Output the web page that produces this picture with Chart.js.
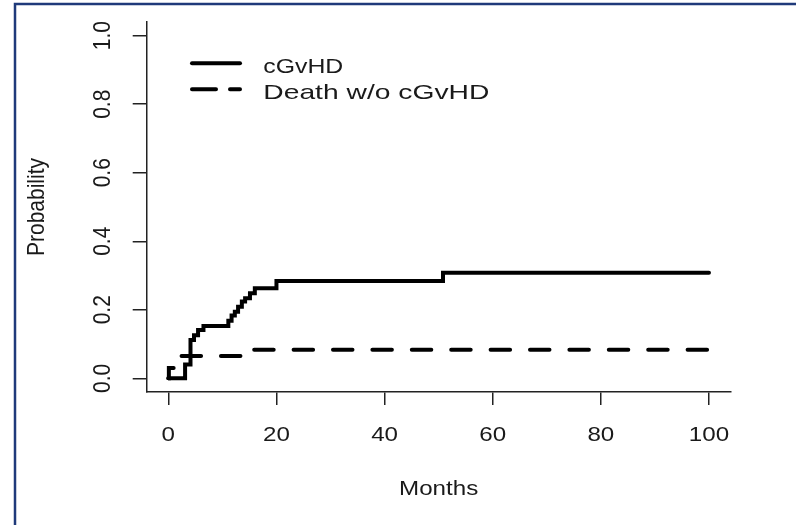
<!DOCTYPE html>
<html>
<head>
<meta charset="utf-8">
<script src="https://cdn.jsdelivr.net/npm/chart.js@4/dist/chart.umd.min.js"></script>
<style>
  html, body { margin: 0; padding: 0; background: #fff; overflow: hidden; }
  canvas { display: block; }
</style>
</head>
<body>
<canvas id="c" width="796" height="525"></canvas>
<script>
// Cumulative incidence step curves: cGvHD and death without cGvHD
const cgvhdMonths = [0, 3.1, 4.1, 4.75, 5.5, 6.5, 11.1, 11.7, 12.3, 12.9, 13.6, 14.2, 15.1, 16.0, 20.0, 50.8, 100];
const cgvhdProb   = [0, 0.04, 0.112, 0.126, 0.141, 0.153, 0.168, 0.183, 0.194, 0.209, 0.224, 0.234, 0.248, 0.263, 0.284, 0.308, 0.308];
const deathMonths = [0, 0.1, 1.3, 15.0, 100];
const deathProb   = [0, 0.03, 0.065, 0.083, 0.083];
const seriesNames = ['cGvHD', 'Death w/o cGvHD'];
const xTickValues = [0, 20, 40, 60, 80, 100];
const yTickValues = [0, 0.2, 0.4, 0.6, 0.8, 1.0];
const yTickLabels = ['0.0', '0.2', '0.4', '0.6', '0.8', '1.0'];
const xTitle = 'Months';
const yTitle = 'Probability';

const FONT = '21px "Liberation Sans", Arial, sans-serif';
const TEXT_COLOR = '#1a1a1a';
const SX = 1.15;                 // horizontal stretch of the lettering
const LEGEND_TEXT_WIDTH = [80, 226];

function toPoints(xs, ys) {
  return xs.map((x, i) => ({ x: x, y: ys[i] }));
}

function drawLabel(ctx, str, x, y, rotated, align, fitWidth) {
  ctx.save();
  ctx.font = FONT;
  let sx = SX;
  if (fitWidth) sx = fitWidth / ctx.measureText(str).width;
  ctx.translate(x, y);
  ctx.scale(sx, 1);
  if (rotated) ctx.rotate(-Math.PI / 2);
  ctx.fillStyle = TEXT_COLOR;
  ctx.textAlign = align;
  ctx.textBaseline = 'alphabetic';
  ctx.fillText(str, 0, 0);
  ctx.restore();
}

// Page frame: left and top rules in navy
const framePlugin = {
  id: 'frame',
  beforeDraw(chart) {
    const ctx = chart.ctx;
    ctx.save();
    ctx.fillStyle = '#fff';
    ctx.fillRect(0, 0, chart.width, chart.height);
    ctx.strokeStyle = '#1f3a7a';
    ctx.lineWidth = 2.5;
    ctx.beginPath();
    ctx.moveTo(15, chart.height);
    ctx.lineTo(15, 4);
    ctx.lineTo(chart.width, 4);
    ctx.stroke();
    ctx.restore();
  }
};

// Tick labels, axis titles and an in-plot legend
const textPlugin = {
  id: 'texts',
  afterDraw(chart) {
    const ctx = chart.ctx;
    const xs = chart.scales.x, ys = chart.scales.y;
    const area = chart.chartArea;

    xTickValues.forEach(v => {
      drawLabel(ctx, String(v), xs.getPixelForValue(v), 441, false, 'center');
    });
    yTickValues.forEach((v, i) => {
      drawLabel(ctx, yTickLabels[i], 110, ys.getPixelForValue(v), true, 'center');
    });

    drawLabel(ctx, xTitle, (area.left + area.right) / 2, 495, false, 'center');
    drawLabel(ctx, yTitle, 44, (area.top + area.bottom) / 2, true, 'center');

    chart.data.datasets.forEach((ds, i) => {
      const ly = 63.3 + i * 26;
      ctx.save();
      ctx.strokeStyle = ds.borderColor;
      ctx.lineWidth = ds.borderWidth;
      ctx.lineCap = ds.borderCapStyle || 'butt';
      ctx.setLineDash(ds.borderDash ? [24, 14] : []);
      ctx.beginPath();
      ctx.moveTo(192, ly);
      ctx.lineTo(240, ly);
      ctx.stroke();
      ctx.restore();
      drawLabel(ctx, ds.label, 263.3, 73 + i * 26, false, 'left', LEGEND_TEXT_WIDTH[i]);
    });
  }
};

const axisLine = { display: true, color: '#222', width: 1.5 };
const tickMarks = { display: true, drawOnChartArea: false, drawTicks: true, color: '#222', lineWidth: 1.5 };

new Chart(document.getElementById('c'), {
  type: 'line',
  data: {
    datasets: [
      {
        label: seriesNames[0],
        data: toPoints(cgvhdMonths, cgvhdProb),
        stepped: 'before',
        borderColor: '#000',
        borderWidth: 4,
        borderCapStyle: 'round',
        borderJoinStyle: 'miter',
        pointRadius: 0,
        fill: false
      },
      {
        label: seriesNames[1],
        data: toPoints(deathMonths, deathProb),
        stepped: 'before',
        borderColor: '#000',
        borderWidth: 4,
        borderDash: [19.5, 19.9],
        borderDashOffset: 3.9,
        borderCapStyle: 'round',
        borderJoinStyle: 'miter',
        pointRadius: 0,
        fill: false
      }
    ]
  },
  options: {
    responsive: false,
    devicePixelRatio: 1,
    animation: false,
    layout: { padding: { left: 0, top: 22, right: 65.4, bottom: 0 } },
    plugins: { legend: { display: false }, tooltip: { enabled: false } },
    scales: {
      x: {
        type: 'linear',
        min: -4,
        max: 104,
        afterBuildTicks: s => { s.ticks = xTickValues.map(v => ({ value: v })); },
        afterFit: s => { s.height = 133; },
        ticks: { display: false },
        grid: Object.assign({ tickLength: 13 }, tickMarks),
        border: axisLine
      },
      y: {
        type: 'linear',
        min: -0.04,
        max: 1.04,
        afterBuildTicks: s => { s.ticks = yTickValues.map(v => ({ value: v })); },
        afterFit: s => { s.width = 146.7; },
        ticks: { display: false },
        grid: Object.assign({ tickLength: 14 }, tickMarks),
        border: axisLine
      }
    }
  },
  plugins: [framePlugin, textPlugin]
});
</script>
</body>
</html>
